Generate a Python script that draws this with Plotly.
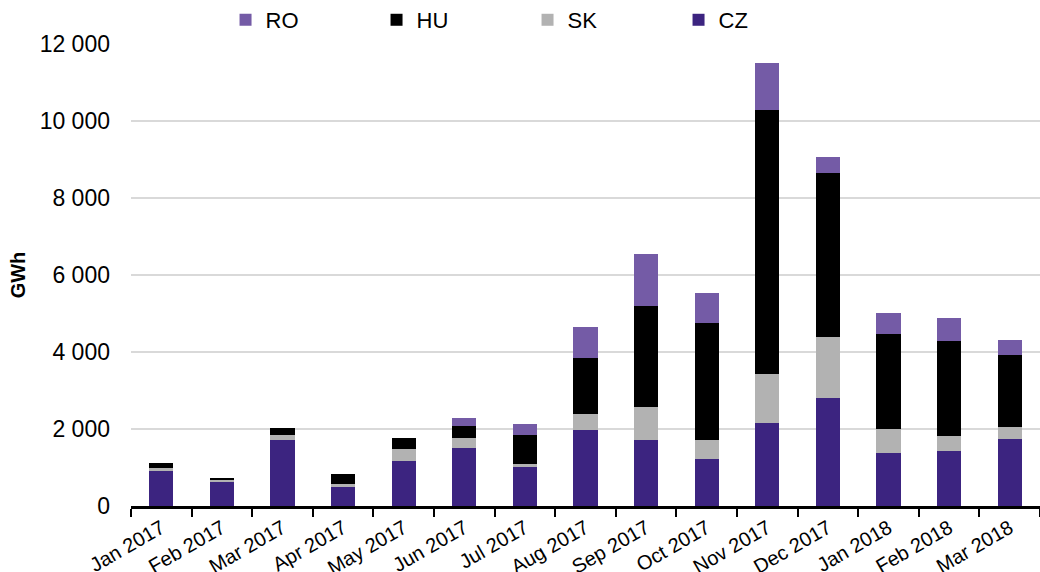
import plotly.graph_objects as go

months = ["Jan 2017", "Feb 2017", "Mar 2017", "Apr 2017", "May 2017", "Jun 2017",
          "Jul 2017", "Aug 2017", "Sep 2017", "Oct 2017", "Nov 2017", "Dec 2017",
          "Jan 2018", "Feb 2018", "Mar 2018"]
cz = [917, 631, 1714, 502, 1177, 1515, 1022, 1965, 1723, 1229, 2165, 2797, 1385, 1429, 1749]
sk = [62, 62, 130, 69, 295, 251, 69, 425, 848, 485, 1264, 1584, 615, 389, 303]
hu = [130, 34, 182, 260, 286, 321, 762, 1445, 2624, 3048, 6857, 4277, 2459, 2476, 1879]
ro = [0, 0, 0, 0, 0, 199, 286, 806, 1342, 779, 1212, 416, 545, 581, 381]
y_ticks = [0, 2000, 4000, 6000, 8000, 10000, 12000]
y_tick_labels = ["0", "2 000", "4 000", "6 000", "8 000", "10 000", "12 000"]

series = [("CZ", cz, "#3C2480"), ("SK", sk, "#B2B2B2"), ("HU", hu, "#000000"), ("RO", ro, "#745BA6")]

fig = go.Figure()
for name, vals, col in series:
    fig.add_trace(go.Bar(x=months, y=vals, name=name, marker=dict(color=col, line=dict(width=0))))

font = "Liberation Sans, Arial, sans-serif"
fig.update_layout(
    barmode="stack",
    bargap=0.6,
    width=1040, height=572,
    margin=dict(l=131, r=0, t=44, b=66, autoexpand=False),
    plot_bgcolor="white", paper_bgcolor="white",
    font=dict(family=font, size=20, color="#000000"),
    legend=dict(orientation="h", traceorder="reversed", x=0.104, xanchor="left",
                y=1.052, yanchor="middle", entrywidth=106, entrywidthmode="pixels",
                itemwidth=30, font=dict(size=22), bgcolor="rgba(0,0,0,0)"),
    xaxis=dict(showline=True, linecolor="#000000", linewidth=2.5, ticks="outside",
               tickson="boundaries", ticklen=8, tickwidth=2, tickcolor="#000000",
               tickangle=-30, tickfont=dict(size=20), showgrid=False, automargin=False),
    yaxis=dict(range=[0, 12000], tickvals=y_ticks, ticktext=y_tick_labels,
               showgrid=True, gridcolor="#D9D9D9", gridwidth=1.5, zeroline=False,
               tickfont=dict(size=23), ticks="", ticklabelstandoff=20, automargin=False,
               title=dict(text="<b>GWh</b>", font=dict(size=20), standoff=8)),
)
fig.write_html("out.html", config={"displayModeBar": False},
               post_script="document.body.style.margin='0';document.body.style.overflow='hidden';")
